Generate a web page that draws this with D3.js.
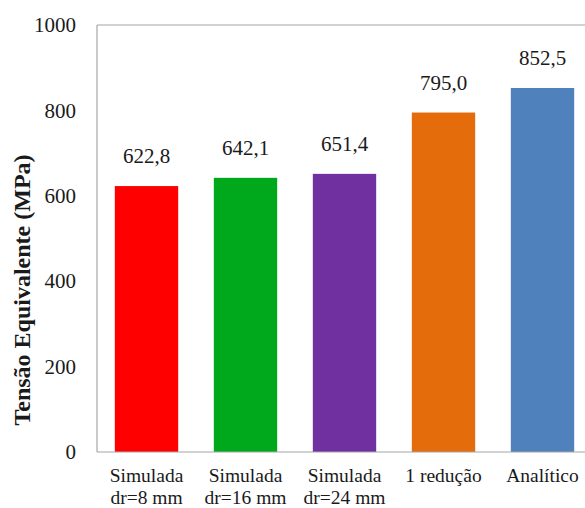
<!DOCTYPE html>
<html>
<head>
<meta charset="utf-8">
<script src="https://cdn.jsdelivr.net/npm/d3@7"></script>
<style>
  html, body { margin: 0; padding: 0; background: #fff; }
  svg { display: block; }
  svg text { font-family: "Liberation Serif", "Times New Roman", serif; fill: #1a1a1a; }
</style>
</head>
<body>
<div id="chart"></div>
<script>
// Tensão equivalente por caso
const categories = ["Simulada|dr=8 mm", "Simulada|dr=16 mm", "Simulada|dr=24 mm", "1 redução", "Analítico"];
const values = [622.8, 642.1, 651.4, 795.0, 852.5];
const colors = ["#ff0000", "#00a81c", "#7030a0", "#e46c0a", "#4f81bd"];
const yTicks = [0, 200, 400, 600, 800, 1000];

const W = 585, H = 508;
const margin = { left: 97, top: 25, bottom: 56 };
const plotBottom = H - margin.bottom;

const svg = d3.select("#chart").append("svg")
  .attr("width", W).attr("height", H);

const x = d3.scaleBand()
  .domain(categories)
  .range([margin.left, margin.left + 495])
  .paddingInner(0.36)
  .paddingOuter(0.18);

const y = d3.scaleLinear().domain([0, 1000]).range([plotBottom, margin.top]);

const axisColor = "#a6a6a6";

// plot frame: left and top edges
svg.append("line")
  .attr("x1", margin.left).attr("x2", margin.left)
  .attr("y1", y(1000)).attr("y2", y(0))
  .attr("stroke", axisColor).attr("stroke-width", 1.2);
svg.append("line")
  .attr("x1", margin.left).attr("x2", W)
  .attr("y1", y(1000)).attr("y2", y(1000))
  .attr("stroke", axisColor).attr("stroke-width", 1.2);

// bars
svg.selectAll("rect.bar").data(values).enter().append("rect")
  .attr("class", "bar")
  .attr("x", (d, i) => x(categories[i]))
  .attr("width", x.bandwidth())
  .attr("y", d => y(d))
  .attr("height", d => y(0) - y(d))
  .attr("fill", (d, i) => colors[i]);

// baseline
svg.append("line")
  .attr("x1", margin.left).attr("x2", W)
  .attr("y1", y(0)).attr("y2", y(0))
  .attr("stroke", axisColor).attr("stroke-width", 1.2);

// value labels
svg.selectAll("text.val").data(values).enter().append("text")
  .attr("class", "val")
  .attr("x", (d, i) => x(categories[i]) + x.bandwidth() / 2)
  .attr("y", d => y(d) - 23)
  .attr("text-anchor", "middle")
  .attr("font-size", 21)
  .text(d => d.toFixed(1).replace(".", ","));

// y axis tick labels
const yAxis = d3.axisLeft(y).tickValues(yTicks).tickFormat(d3.format("d")).tickSize(0).tickPadding(21);
const gy = svg.append("g").attr("transform", `translate(${margin.left},0)`).call(yAxis);
gy.select(".domain").remove();
gy.selectAll("text")
  .attr("font-family", null).attr("font-size", 21).attr("fill", null);

// x axis category labels (two lines)
const gx = svg.append("g");
categories.forEach(c => {
  const lines = c.split("|");
  const cx = x(c) + x.bandwidth() / 2;
  const t = gx.append("text")
    .attr("x", cx)
    .attr("y", plotBottom + 30)
    .attr("text-anchor", "middle")
    .attr("font-size", 19.5);
  lines.forEach((l, k) => {
    t.append("tspan")
      .attr("x", cx)
      .attr("dy", k === 0 ? 0 : 22)
      .text(l);
  });
});

// y axis title
svg.append("text")
  .attr("transform", "translate(22,290) rotate(-90)")
  .attr("text-anchor", "middle")
  .attr("dominant-baseline", "central")
  .attr("font-size", 24).attr("font-weight", "bold")
  .text("Tensão Equivalente (MPa)");
</script>
</body>
</html>
